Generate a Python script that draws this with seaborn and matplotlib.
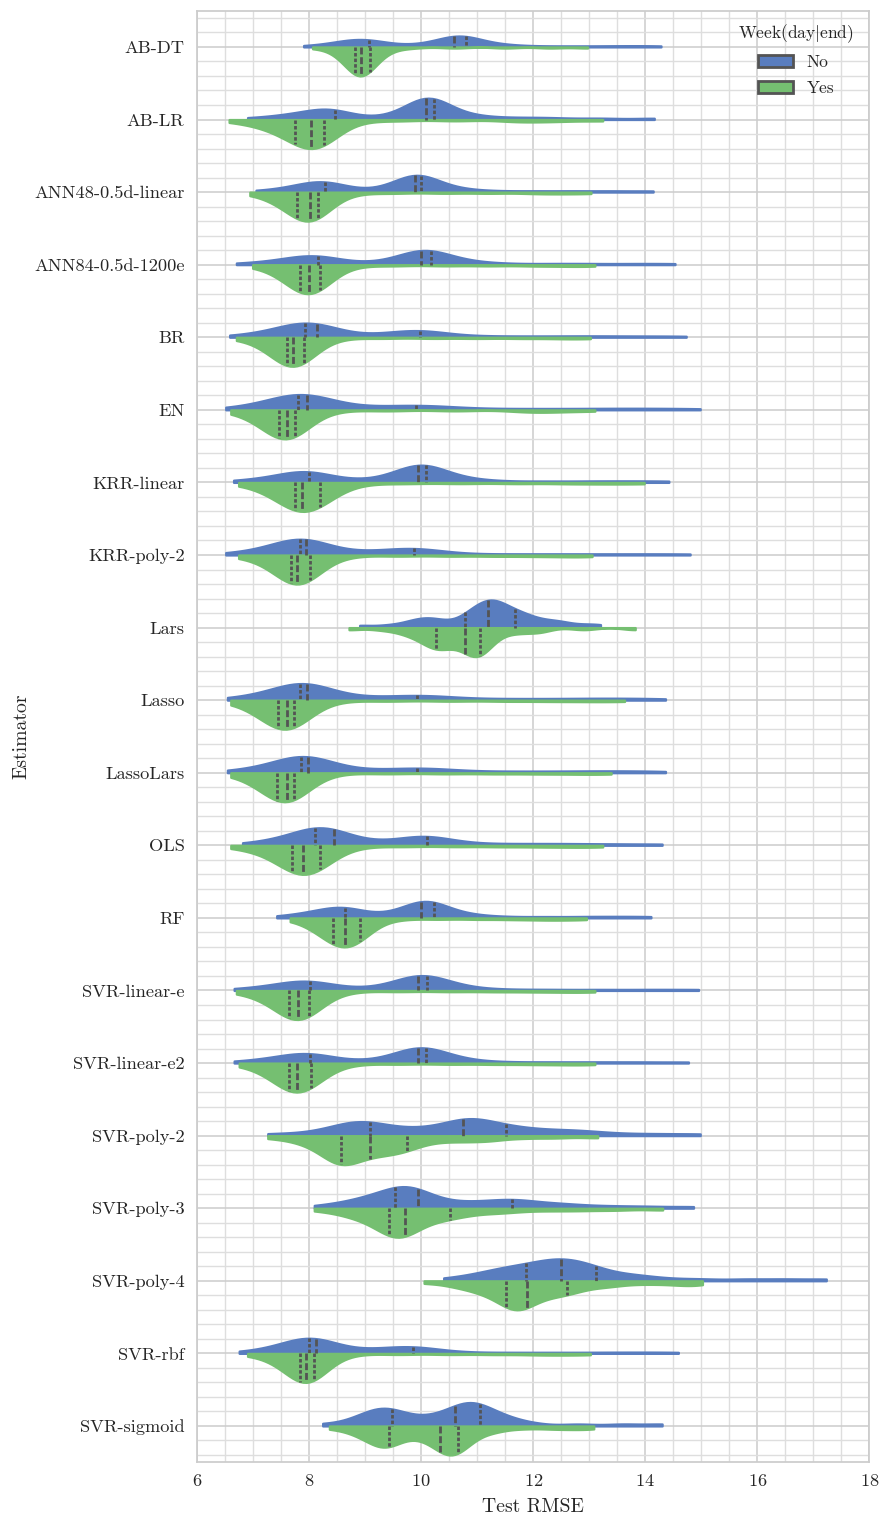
import numpy as np
import pandas as pd
import seaborn as sns
import matplotlib.pyplot as plt
from matplotlib.ticker import MultipleLocator
from matplotlib.collections import PolyCollection

estimators = ["AB-DT", "AB-LR", "ANN48-0.5d-linear", "ANN84-0.5d-1200e", "BR", "EN",
              "KRR-linear", "KRR-poly-2", "Lars", "Lasso", "LassoLars", "OLS", "RF",
              "SVR-linear-e", "SVR-linear-e2", "SVR-poly-2", "SVR-poly-3", "SVR-poly-4",
              "SVR-rbf", "SVR-sigmoid"]
week_levels = ["No", "Yes"]

ab_dt_no = [(7.9, 1), (8.4, 2), (8.7, 3), (8.9, 3), (9.06, 3), (9.3, 2), (9.7, 1), (10.1, 2), (10.4, 2),
            (10.59, 4), (10.7, 4), (10.8, 4), (11.1, 2), (11.5, 2), (12.1, 1), (12.7, 1), (13.3, 1),
            (13.8, 1), (14.28, 1)]
ab_dt_yes = [(8.06, 1), (8.45, 2), (8.65, 3), (8.75, 3), (8.81, 3), (8.87, 4), (8.93, 6), (9.0, 5),
             (9.08, 4), (9.2, 2), (9.4, 2), (9.8, 1), (10.6, 1), (11.5, 1), (12.3, 1), (12.97, 1)]
ab_lr_no = [(6.9, 1), (7.5, 2), (7.9, 2), (8.2, 3), (8.4, 2), (8.48, 2), (8.8, 1), (9.3, 1), (9.7, 2),
            (9.95, 3), (10.09, 4), (10.15, 4), (10.23, 4), (10.5, 2), (10.9, 2), (11.4, 1), (11.9, 1),
            (12.4, 1), (13.2, 1), (14.16, 1)]
ab_lr_yes = [(6.57, 1), (7.0, 2), (7.35, 3), (7.6, 3), (7.75, 3), (7.9, 4), (8.04, 5), (8.15, 4),
             (8.27, 6), (8.5, 2), (8.9, 1), (9.6, 1), (10.6, 1), (11.6, 1), (12.0, 1), (12.5, 1), (13.24, 1)]
ann48_no = [(7.05, 1), (7.6, 2), (7.9, 2), (8.15, 3), (8.29, 4), (8.6, 2), (9.1, 1), (9.5, 2), (9.75, 2),
            (9.88, 4), (9.95, 4), (10.0, 4), (10.3, 2), (10.7, 2), (11.3, 1), (12.0, 1), (12.7, 1),
            (13.4, 1), (14.14, 1)]
ann48_yes = [(6.94, 1), (7.3, 2), (7.55, 3), (7.7, 3), (7.79, 3), (7.92, 4), (8.02, 5), (8.08, 4),
             (8.15, 6), (8.4, 2), (8.8, 1), (9.5, 1), (10.4, 1), (11.2, 1), (12.0, 1), (12.5, 1), (13.03, 1)]
ann84_no = [(6.7, 1), (7.3, 2), (7.7, 2), (7.95, 3), (8.15, 4), (8.5, 2), (9.0, 1), (9.5, 2), (9.8, 2),
            (9.99, 4), (10.08, 4), (10.18, 4), (10.5, 2), (10.9, 2), (11.5, 1), (12.3, 1), (13.0, 1),
            (13.8, 1), (14.53, 1)]
ann84_yes = [(6.99, 1), (7.35, 2), (7.6, 3), (7.75, 3), (7.83, 3), (7.92, 4), (7.99, 5), (8.1, 4),
             (8.19, 6), (8.4, 2), (8.8, 1), (9.5, 1), (10.4, 1), (11.2, 1), (12.0, 1), (12.6, 1), (13.1, 1)]
br_no = [(6.58, 1), (7.1, 2), (7.5, 3), (7.75, 3), (7.92, 3), (8.0, 4), (8.14, 5), (8.5, 2), (9.0, 1),
         (9.5, 2), (9.8, 2), (9.97, 3), (10.2, 2), (10.7, 1), (11.3, 1), (12.0, 1), (12.7, 1), (13.3, 1),
         (14.0, 1), (14.73, 1)]
br_yes = [(6.7, 1), (7.1, 2), (7.35, 3), (7.5, 3), (7.6, 3), (7.66, 4), (7.71, 5), (7.8, 4), (7.9, 6),
          (8.1, 2), (8.5, 1), (9.3, 1), (10.2, 1), (11.0, 1), (11.8, 1), (12.5, 1), (13.02, 1)]
en_no = [(6.51, 1), (7.0, 2), (7.4, 3), (7.65, 3), (7.8, 3), (7.88, 4), (7.97, 5), (8.3, 3), (8.8, 2),
         (9.4, 2), (9.9, 3), (10.4, 2), (11.0, 1), (11.7, 1), (12.4, 1), (13.1, 1), (13.7, 1), (14.3, 1),
         (14.98, 1)]
en_yes = [(6.6, 1), (6.95, 2), (7.2, 3), (7.38, 3), (7.46, 3), (7.53, 4), (7.6, 5), (7.67, 4), (7.74, 6),
          (7.95, 2), (8.4, 1), (9.4, 1), (10.6, 1), (11.8, 1), (12.1, 1), (12.5, 1), (13.1, 1)]
krr_lin_no = [(6.65, 1), (7.2, 2), (7.6, 2), (7.85, 3), (8.0, 4), (8.4, 2), (8.9, 1), (9.4, 2), (9.75, 2),
              (9.94, 4), (10.0, 4), (10.09, 4), (10.4, 2), (10.8, 2), (11.4, 1), (12.2, 1), (13.0, 1),
              (13.7, 1), (14.42, 1)]
krr_lin_yes = [(6.74, 1), (7.15, 2), (7.45, 3), (7.65, 3), (7.74, 3), (7.82, 4), (7.88, 5), (8.05, 4),
               (8.19, 6), (8.45, 2), (8.9, 1), (9.7, 1), (10.7, 1), (11.7, 1), (12.6, 1), (13.3, 1), (13.98, 1)]
krr_poly_no = [(6.51, 1), (7.0, 2), (7.4, 3), (7.7, 3), (7.84, 3), (7.9, 4), (7.94, 5), (8.3, 2), (8.8, 2),
               (9.3, 2), (9.7, 2), (9.87, 3), (10.2, 2), (10.8, 1), (11.6, 1), (12.4, 1), (13.2, 1),
               (14.0, 1), (14.8, 1)]
krr_poly_yes = [(6.74, 1), (7.1, 2), (7.4, 3), (7.58, 3), (7.67, 3), (7.72, 4), (7.78, 5), (7.9, 4),
                (8.01, 6), (8.25, 2), (8.7, 1), (9.6, 1), (10.5, 1), (11.3, 1), (12.0, 1), (12.6, 1), (13.05, 1)]
lars_no = [(8.9, 1), (9.4, 1), (9.8, 2), (10.1, 3), (10.4, 2), (10.79, 3), (11.0, 4), (11.19, 5),
           (11.35, 4), (11.5, 3), (11.68, 3), (11.9, 3), (12.2, 2), (12.5, 2), (12.9, 1), (13.2, 1)]
lars_yes = [(8.71, 1), (9.3, 1), (9.7, 2), (10.0, 3), (10.2, 2), (10.27, 3), (10.4, 3), (10.6, 3),
            (10.79, 3), (10.95, 4), (11.05, 6), (11.3, 3), (11.7, 2), (12.1, 2), (12.9, 1), (13.82, 1)]
lasso_no = [(6.54, 1), (7.0, 2), (7.4, 3), (7.7, 3), (7.83, 3), (7.9, 4), (7.97, 5), (8.3, 3), (8.8, 2),
            (9.4, 2), (9.92, 3), (10.4, 2), (11.0, 1), (11.6, 1), (12.2, 1), (12.8, 1), (13.3, 1),
            (13.8, 1), (14.36, 1)]
lasso_yes = [(6.6, 1), (6.95, 2), (7.2, 3), (7.37, 3), (7.45, 3), (7.53, 4), (7.61, 5), (7.67, 4),
             (7.73, 6), (7.95, 2), (8.4, 1), (9.4, 1), (10.5, 1), (11.5, 1), (12.3, 1), (13.0, 1), (13.63, 1)]
lassolars_no = [(6.54, 1), (7.0, 2), (7.4, 3), (7.72, 3), (7.85, 3), (7.92, 4), (7.98, 5), (8.3, 3),
                (8.8, 2), (9.4, 2), (9.93, 3), (10.4, 2), (11.0, 1), (11.6, 1), (12.2, 1), (12.8, 1),
                (13.3, 1), (13.8, 1), (14.36, 1)]
lassolars_yes = [(6.6, 1), (6.95, 2), (7.2, 3), (7.35, 3), (7.43, 3), (7.53, 4), (7.61, 5), (7.67, 4),
                 (7.73, 6), (7.95, 2), (8.4, 1), (9.4, 1), (10.4, 1), (11.3, 1), (12.1, 1), (12.8, 1), (13.39, 1)]
ols_no = [(6.81, 1), (7.3, 2), (7.7, 3), (7.95, 3), (8.11, 3), (8.25, 4), (8.44, 5), (8.8, 2), (9.3, 2),
          (9.8, 2), (10.0, 2), (10.11, 3), (10.5, 2), (11.0, 1), (11.6, 1), (12.2, 1), (12.8, 1),
          (13.5, 1), (14.3, 1)]
ols_yes = [(6.6, 1), (7.0, 2), (7.35, 3), (7.58, 3), (7.7, 3), (7.8, 4), (7.89, 5), (8.05, 4), (8.2, 6),
           (8.45, 2), (8.9, 1), (9.7, 1), (10.6, 1), (11.4, 1), (12.1, 1), (12.7, 1), (13.24, 1)]
rf_no = [(7.42, 1), (7.9, 2), (8.2, 2), (8.45, 3), (8.64, 4), (8.9, 2), (9.3, 1), (9.6, 2), (9.85, 2),
         (9.99, 4), (10.1, 4), (10.23, 4), (10.5, 2), (10.9, 2), (11.5, 1), (12.2, 1), (12.9, 1),
         (13.5, 1), (14.1, 1)]
rf_yes = [(7.66, 1), (8.0, 2), (8.2, 3), (8.35, 3), (8.43, 3), (8.55, 4), (8.64, 5), (8.78, 4), (8.91, 6),
          (9.15, 2), (9.6, 1), (10.3, 1), (11.0, 1), (11.6, 1), (12.1, 1), (12.5, 1), (12.95, 1)]
svr_lin_e_no = [(6.66, 1), (7.2, 2), (7.6, 2), (7.85, 3), (8.01, 4), (8.4, 2), (8.9, 1), (9.4, 2),
                (9.75, 2), (9.95, 4), (10.02, 4), (10.1, 4), (10.4, 2), (10.8, 2), (11.5, 1), (12.3, 1),
                (13.2, 1), (14.1, 1), (14.95, 1)]
svr_lin_e_yes = [(6.7, 1), (7.05, 2), (7.35, 3), (7.55, 3), (7.64, 3), (7.72, 4), (7.8, 5), (7.9, 4),
                 (8.0, 6), (8.25, 2), (8.7, 1), (9.6, 1), (10.5, 1), (11.3, 1), (12.0, 1), (12.6, 1), (13.1, 1)]
svr_lin_e2_no = [(6.66, 1), (7.2, 2), (7.6, 2), (7.85, 3), (8.02, 4), (8.4, 2), (8.9, 1), (9.4, 2),
                 (9.75, 2), (9.94, 4), (10.0, 4), (10.09, 4), (10.4, 2), (10.8, 2), (11.5, 1), (12.3, 1),
                 (13.1, 1), (13.9, 1), (14.77, 1)]
svr_lin_e2_yes = [(6.75, 1), (7.1, 2), (7.38, 3), (7.56, 3), (7.64, 3), (7.7, 4), (7.78, 5), (7.92, 4),
                  (8.04, 6), (8.3, 2), (8.75, 1), (9.6, 1), (10.5, 1), (11.3, 1), (12.0, 1), (12.6, 1), (13.1, 1)]
svr_poly2_no = [(7.26, 1), (7.9, 1), (8.4, 2), (8.75, 3), (8.95, 3), (9.14, 2), (9.5, 2), (9.9, 2),
                (10.3, 2), (10.6, 1), (10.74, 3), (10.9, 3), (11.05, 3), (11.51, 3), (11.9, 2), (12.4, 2),
                (12.9, 2), (13.5, 1), (14.2, 1), (14.98, 1)]
svr_poly2_yes = [(7.26, 1), (7.8, 2), (8.2, 3), (8.45, 4), (8.6, 4), (8.7, 3), (8.9, 2), (9.08, 3),
                 (9.3, 3), (9.5, 2), (9.74, 4), (10.2, 2), (10.7, 2), (11.2, 2), (11.8, 1), (12.4, 1), (13.15, 1)]
svr_poly3_no = [(8.09, 1), (8.6, 2), (9.0, 3), (9.3, 3), (9.54, 3), (9.7, 4), (9.85, 3), (9.95, 3),
                (10.3, 2), (10.7, 2), (11.1, 2), (11.4, 1), (11.62, 3), (12.0, 2), (12.5, 2), (13.0, 1),
                (13.5, 1), (14.1, 1), (14.86, 1)]
svr_poly3_yes = [(8.09, 1), (8.6, 2), (8.95, 3), (9.25, 3), (9.42, 3), (9.55, 4), (9.65, 3), (9.71, 3),
                 (9.9, 3), (10.2, 3), (10.51, 3), (10.9, 2), (11.4, 2), (11.9, 1), (12.4, 1), (12.9, 1),
                 (13.5, 1), (14.31, 1)]
svr_poly4_no = [(10.4, 1), (10.9, 2), (11.3, 3), (11.6, 3), (11.87, 3), (12.1, 3), (12.3, 3), (12.49, 4),
                (12.7, 3), (12.9, 3), (13.12, 3), (13.5, 2), (13.9, 2), (14.4, 1), (15.0, 1), (15.8, 1),
                (16.5, 1), (17.23, 1)]
svr_poly4_yes = [(10.05, 1), (10.6, 2), (11.0, 3), (11.3, 3), (11.52, 3), (11.65, 4), (11.78, 3),
                 (11.88, 3), (12.1, 3), (12.35, 3), (12.61, 3), (12.9, 2), (13.3, 2), (13.7, 1), (14.1, 1),
                 (14.5, 1), (14.8, 1), (15.02, 1)]
svr_rbf_no = [(6.75, 1), (7.25, 2), (7.6, 3), (7.85, 3), (8.0, 3), (8.06, 4), (8.13, 5), (8.5, 2), (9.0, 2),
              (9.4, 2), (9.7, 2), (9.85, 3), (10.2, 2), (10.8, 1), (11.6, 1), (12.4, 1), (13.2, 1),
              (13.9, 1), (14.59, 1)]
svr_rbf_yes = [(6.9, 1), (7.3, 2), (7.55, 3), (7.75, 3), (7.84, 3), (7.9, 4), (7.94, 5), (8.02, 4),
               (8.09, 6), (8.3, 2), (8.7, 1), (9.6, 1), (10.5, 1), (11.3, 1), (12.0, 1), (12.5, 1), (13.02, 1)]
svr_sig_no = [(8.24, 1), (8.8, 2), (9.1, 3), (9.3, 3), (9.47, 3), (9.7, 2), (10.0, 2), (10.3, 2),
              (10.5, 1), (10.6, 3), (10.8, 3), (10.95, 4), (11.05, 2), (11.3, 3), (11.6, 2), (12.0, 1),
              (12.8, 1), (13.6, 1), (14.3, 1)]
svr_sig_yes = [(8.36, 1), (8.8, 2), (9.1, 3), (9.3, 3), (9.42, 3), (9.6, 2), (9.85, 2), (10.1, 2),
               (10.25, 1), (10.33, 3), (10.5, 3), (10.58, 3), (10.66, 3), (10.9, 3), (11.3, 2), (11.8, 1),
               (12.3, 1), (12.7, 1), (13.08, 1)]

no_groups = [ab_dt_no, ab_lr_no, ann48_no, ann84_no, br_no, en_no, krr_lin_no, krr_poly_no, lars_no,
             lasso_no, lassolars_no, ols_no, rf_no, svr_lin_e_no, svr_lin_e2_no, svr_poly2_no,
             svr_poly3_no, svr_poly4_no, svr_rbf_no, svr_sig_no]
yes_groups = [ab_dt_yes, ab_lr_yes, ann48_yes, ann84_yes, br_yes, en_yes, krr_lin_yes, krr_poly_yes,
              lars_yes, lasso_yes, lassolars_yes, ols_yes, rf_yes, svr_lin_e_yes, svr_lin_e2_yes,
              svr_poly2_yes, svr_poly3_yes, svr_poly4_yes, svr_rbf_yes, svr_sig_yes]

rows = []
for est, no, yes in zip(estimators, no_groups, yes_groups):
    for level, pairs in zip(week_levels, (no, yes)):
        for val, cnt in pairs:
            rows += [(est, level, val)] * cnt
df = pd.DataFrame(rows, columns=["Estimator", "Week", "Test RMSE"])

sns.set_theme(style="whitegrid")
plt.rcParams["font.family"] = ["cmr10", "DejaVu Serif"]
plt.rcParams["mathtext.fontset"] = "cm"
plt.rcParams["axes.formatter.use_mathtext"] = True

muted = sns.color_palette("muted")
palette = [muted[0], muted[2]]

fig, ax = plt.subplots(figsize=(8.8, 15.2), dpi=100)
fig.subplots_adjust(left=0.224, right=0.988, top=0.993, bottom=0.038)

# one call per estimator so the two halves are scaled against each other only
for i, est in enumerate(estimators):
    sns.violinplot(data=df[df["Estimator"] == est], x="Test RMSE", y="Estimator", hue="Week",
                   order=estimators, hue_order=week_levels, split=True, inner="quart", cut=0,
                   bw_adjust=0.5, common_norm=True, palette=palette, linewidth=2,
                   legend=(i == 0), ax=ax)

# violin outlines in their own fill colour, as in the original
for coll in ax.collections:
    if isinstance(coll, PolyCollection):
        coll.set_edgecolor(coll.get_facecolor())
        coll.set_linewidth(1.6)

ax.set_xlim(6, 18)
ax.set_ylim(19.5, -0.5)
ax.xaxis.set_major_locator(MultipleLocator(2))
ax.xaxis.set_minor_locator(MultipleLocator(0.5))
ax.yaxis.set_minor_locator(MultipleLocator(0.2))
ax.grid(True, which="major", axis="both", color="#cccccc", lw=1.1)
ax.grid(True, which="minor", axis="both", color="#dedede", lw=1.0)
ax.set_axisbelow(True)
ax.tick_params(axis="both", which="both", length=0, labelsize=13.2)
ax.tick_params(axis="y", pad=9)
ax.tick_params(axis="x", pad=8)
ax.set_xlabel("Test RMSE", fontsize=14.2, labelpad=6)
ax.set_ylabel("Estimator", fontsize=14.2, labelpad=3)

sns.move_legend(ax, "upper right", bbox_to_anchor=(1.0, 1.003), frameon=False,
                title="Week(day$|$end)", fontsize=12.5, title_fontsize=12.5, labelspacing=0.6)

fig.savefig("out.png", dpi=100)
